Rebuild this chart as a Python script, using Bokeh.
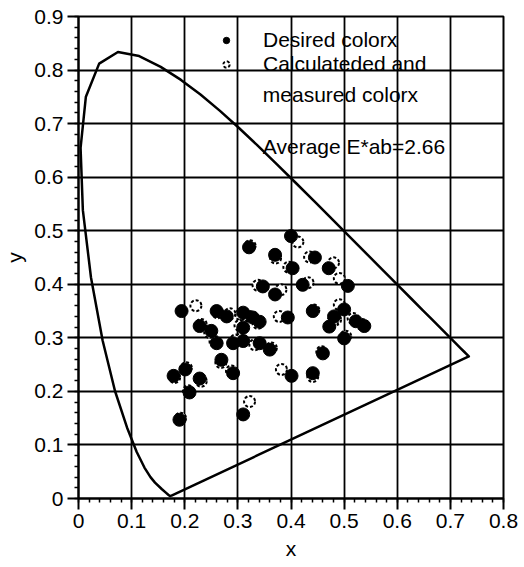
import numpy as np
from bokeh.plotting import figure
from bokeh.models import FixedTicker, Legend, LegendItem, Label, Range1d
from bokeh.embed import file_html
from bokeh.resources import INLINE

# CIE 1931 spectral locus (x, y)
locus_x = [0.1741, 0.1733, 0.1714, 0.1689, 0.1644, 0.1566, 0.1440, 0.1355, 0.1241, 0.1096,
           0.0913, 0.0687, 0.0454, 0.0235, 0.0082, 0.0039, 0.0139, 0.0389, 0.0743, 0.1142,
           0.1547, 0.1929, 0.2296, 0.2658, 0.3016, 0.3373, 0.3731, 0.4087, 0.4441, 0.4788,
           0.5125, 0.5448, 0.5752, 0.6029, 0.6270, 0.6482, 0.6658, 0.6915, 0.7079, 0.7190,
           0.7260, 0.7300, 0.7334, 0.7347, 0.1741]
locus_y = [0.0050, 0.0048, 0.0051, 0.0069, 0.0109, 0.0177, 0.0297, 0.0399, 0.0578, 0.0868,
           0.1327, 0.2007, 0.2950, 0.4127, 0.5384, 0.6548, 0.7502, 0.8120, 0.8338, 0.8262,
           0.8059, 0.7816, 0.7543, 0.7243, 0.6923, 0.6589, 0.6245, 0.5896, 0.5547, 0.5202,
           0.4866, 0.4544, 0.4242, 0.3965, 0.3725, 0.3514, 0.3340, 0.3083, 0.2920, 0.2809,
           0.2740, 0.2700, 0.2666, 0.2653, 0.0050]

desired_x = [0.400, 0.321, 0.370, 0.445, 0.471, 0.403, 0.507, 0.347, 0.422, 0.370,
             0.194, 0.260, 0.279, 0.310, 0.328, 0.341, 0.310, 0.441, 0.394, 0.481,
             0.500, 0.522, 0.538, 0.472, 0.228, 0.250, 0.260, 0.291, 0.310, 0.341,
             0.360, 0.500, 0.460, 0.269, 0.201, 0.179, 0.228, 0.291, 0.401, 0.441,
             0.209, 0.310, 0.190]
desired_y = [0.490, 0.469, 0.455, 0.450, 0.430, 0.430, 0.397, 0.396, 0.399, 0.381,
             0.350, 0.350, 0.340, 0.347, 0.338, 0.330, 0.319, 0.350, 0.338, 0.340,
             0.353, 0.331, 0.322, 0.321, 0.322, 0.313, 0.290, 0.290, 0.294, 0.290,
             0.278, 0.299, 0.271, 0.259, 0.241, 0.229, 0.224, 0.234, 0.229, 0.234,
             0.198, 0.157, 0.147]
calc_x = [0.413, 0.323, 0.371, 0.435, 0.480, 0.396, 0.491, 0.338, 0.432, 0.381,
          0.221, 0.262, 0.285, 0.306, 0.322, 0.338, 0.304, 0.443, 0.378, 0.484,
          0.491, 0.517, 0.534, 0.478, 0.231, 0.247, 0.257, 0.296, 0.306, 0.332,
          0.363, 0.503, 0.458, 0.268, 0.203, 0.181, 0.231, 0.288, 0.382, 0.441,
          0.207, 0.322, 0.192]
calc_y = [0.479, 0.472, 0.449, 0.451, 0.440, 0.432, 0.411, 0.398, 0.403, 0.390,
          0.360, 0.347, 0.345, 0.343, 0.340, 0.327, 0.323, 0.352, 0.340, 0.334,
          0.362, 0.336, 0.325, 0.329, 0.325, 0.310, 0.293, 0.296, 0.298, 0.287,
          0.281, 0.303, 0.274, 0.254, 0.244, 0.226, 0.219, 0.238, 0.241, 0.228,
          0.201, 0.181, 0.150]

x_ticks = [0, 0.1, 0.2, 0.3, 0.4, 0.5, 0.6, 0.7, 0.8]
x_tick_labels = ["0", "0.1", "0.2", "0.3", "0.4", "0.5", "0.6", "0.7", "0.8"]
y_ticks = [0, 0.1, 0.2, 0.3, 0.4, 0.5, 0.6, 0.7, 0.8, 0.9]
y_tick_labels = ["0", "0.1", "0.2", "0.3", "0.4", "0.5", "0.6", "0.7", "0.8", "0.9"]

FONT = "Liberation Sans"
FS = "21px"

p = figure(frame_width=425, frame_height=482, output_backend="svg", toolbar_location=None,
           x_range=Range1d(0, 0.8), y_range=Range1d(0, 0.9),
           min_border_left=74, min_border_right=17, min_border_top=16, min_border_bottom=62)
p.background_fill_color = "white"
p.border_fill_color = "white"
p.outline_line_color = "black"
p.outline_line_width = 2

minor_x = [round(v, 3) for v in np.arange(0, 0.8001, 0.02)]
minor_y = [round(v, 3) for v in np.arange(0, 0.9001, 0.02)]
p.xaxis.ticker = FixedTicker(ticks=x_ticks, minor_ticks=minor_x)
p.yaxis.ticker = FixedTicker(ticks=y_ticks, minor_ticks=minor_y)
p.xaxis.major_label_overrides = {t: l for t, l in zip(x_ticks, x_tick_labels)}
p.yaxis.major_label_overrides = {t: l for t, l in zip(y_ticks, y_tick_labels)}

for ax in (p.xaxis, p.yaxis):
    ax.axis_line_width = 2
    ax.axis_line_color = "black"
    ax.major_tick_line_width = 2
    ax.major_tick_line_color = "black"
    ax.major_tick_out = 11
    ax.major_tick_in = 0
    ax.minor_tick_out = 4
    ax.minor_tick_in = 0
    ax.minor_tick_line_width = 1.5
    ax.minor_tick_line_color = "black"
    ax.major_label_text_font = FONT
    ax.major_label_text_font_size = FS
    ax.major_label_text_color = "black"
    ax.axis_label_text_font = FONT
    ax.axis_label_text_font_size = FS
    ax.axis_label_text_font_style = "normal"
    ax.axis_label_text_color = "black"
p.xaxis.axis_label = "x"
p.yaxis.axis_label = "y"
p.xaxis.major_label_standoff = 4
p.yaxis.major_label_standoff = 4
p.xaxis.axis_label_standoff = 6

p.grid.grid_line_color = "black"
p.grid.grid_line_width = 1.8
p.grid.grid_line_alpha = 1.0

p.line(locus_x, locus_y, line_color="black", line_width=2.5, line_join="round")

r_calc = p.scatter(calc_x, calc_y, marker="circle", size=11, fill_color="white",
                   line_color="black", line_width=2, line_dash="3 2")
r_des = p.scatter(desired_x, desired_y, marker="circle", size=13, fill_color="black",
                  line_color="black")

legend = Legend(items=[LegendItem(label="Desired colorx", renderers=[r_des]),
                       LegendItem(label="Calculateded and", renderers=[r_calc])],
                location=(140, 422), border_line_color=None, background_fill_alpha=0,
                label_text_font=FONT, label_text_font_size=FS, label_text_color="black",
                label_standoff=29, spacing=-4, padding=0, glyph_width=16, glyph_height=16,
                label_height=16)
p.add_layout(legend, "center")

p.add_layout(Label(x=0.347, y=0.754, text="measured colorx", text_font=FONT,
                   text_font_size=FS, text_color="black", text_baseline="alphabetic"))
p.add_layout(Label(x=0.347, y=0.657, text="Average E*ab=2.66", text_font=FONT,
                   text_font_size=FS, text_color="black", text_baseline="alphabetic"))

open("out.html", "w").write(file_html(p, INLINE))
